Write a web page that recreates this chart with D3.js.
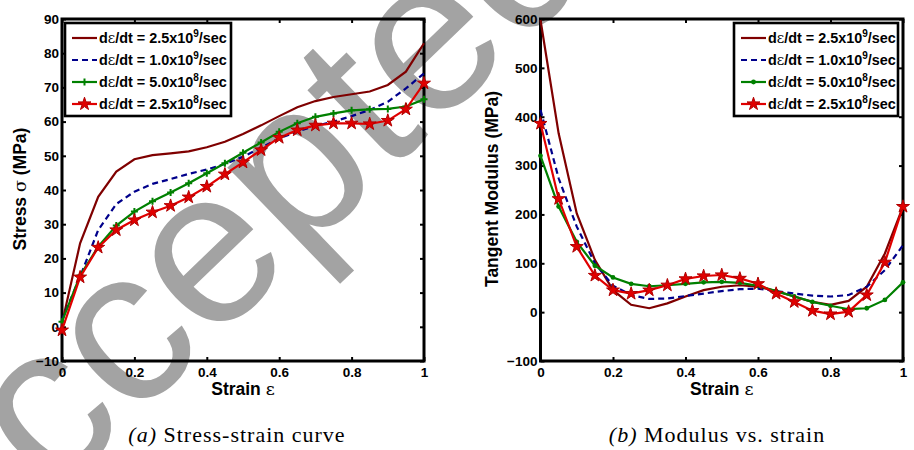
<!DOCTYPE html>
<html>
<head>
<meta charset="utf-8">
<script src="https://cdn.jsdelivr.net/npm/d3@7"></script>
<style>
  html, body { margin: 0; padding: 0; background: #fff; }
  svg { display: block; font-family: "Liberation Sans", Arial, sans-serif; }
</style>
</head>
<body>
<svg id="chart" width="914" height="450"></svg>
<script>
// data ---------------------------------------------------------------------------------------
const strain = [0, 0.05, 0.1, 0.15, 0.2, 0.25, 0.3, 0.35, 0.4, 0.45, 0.5,
  0.55, 0.6, 0.65, 0.7, 0.75, 0.8, 0.85, 0.9, 0.95, 1];

// (a) stress, MPa
const stress25e9 = [1, 24.4, 38.0, 45.4, 49.0, 50.2, 50.7, 51.3, 52.5, 54.1, 56.4,
  58.9, 61.6, 64.2, 66.0, 67.2, 68.0, 68.8, 70.7, 74.6, 82.9];
const stress10e9 = [2, 14.6, 28.3, 35.9, 39.5, 41.8, 43.2, 44.7, 46.0, 47.6, 49.7,
  52.4, 55.1, 57.1, 58.7, 60.0, 61.6, 63.4, 65.8, 69.7, 74.1];
const stress50e8 = [1.5, 15.0, 23.4, 29.6, 33.7, 36.7, 39.3, 42.0, 44.9, 47.8, 50.9,
  53.9, 57.0, 59.5, 61.4, 62.4, 63.3, 63.6, 63.7, 64.4, 66.5];
const stress25e8 = [-1, 14.5, 23.2, 28.3, 31.2, 33.5, 35.4, 37.9, 41.0, 44.6, 48.1,
  51.7, 55.3, 57.5, 58.9, 59.5, 59.5, 59.3, 60.3, 63.6, 71.2];

// (b) tangent modulus, MPa
const modulus25e9 = [598, 366, 202, 107, 45, 15, 8, 18, 32, 45, 52,
  55, 52, 43, 32, 21, 15, 23, 52, 120, 216];
const modulus10e9 = [414, 274, 175, 100, 54, 35, 27, 28, 33, 38, 43,
  47, 48, 43, 38, 34, 32, 35, 52, 86, 137];
const modulus50e8 = [320, 216, 144, 95, 71, 58, 53, 55, 58, 61, 62,
  60, 54, 43, 32, 21, 13, 6, 8, 25, 61];
const modulus25e8 = [386, 232, 134, 75, 45, 38, 45, 55, 68, 74, 76,
  69, 58, 38, 21, 3, -4, 1, 35, 102, 216];

const rateLabels = [
  {mant: '2.5', exp: '9'},
  {mant: '1.0', exp: '9'},
  {mant: '5.0', exp: '8'},
  {mant: '2.5', exp: '8'}
];
const xTicks = [0, 0.2, 0.4, 0.6, 0.8, 1];
const stressTicks = [-10, 0, 10, 20, 30, 40, 50, 60, 70, 80, 90];
const modulusTicks = [-100, 0, 100, 200, 300, 400, 500, 600];
const captions = [
  {tag: '(a)', text: ' Stress-strain curve'},
  {tag: '(b)', text: ' Modulus vs. strain'}
];

// styles -------------------------------------------------------------------------------------
const seriesStyle = [
  {color: '#7f0000', dash: null, marker: null},
  {color: '#00008b', dash: '6,4', marker: null},
  {color: '#008000', dash: null, marker: 'plus'},
  {color: '#e00000', dash: null, marker: 'star'}
];

const svg = d3.select('#chart');

// watermark ----------------------------------------------------------------------------------
svg.append('text')
  .attr('transform', 'translate(-54,601) rotate(-44)')
  .attr('font-size', '220px')
  .attr('fill', '#a3a3a3')
  .text('Accepted');

// panel --------------------------------------------------------------------------------------
function drawPanel(opt) {
  const x = d3.scaleLinear().domain([0, 1]).range([opt.left, opt.right]);
  const y = d3.scaleLinear().domain(opt.yDomain).range([361, 19]);
  const g = svg.append('g');
  const fmt = d3.format('~g');

  g.append('g')
    .attr('transform', 'translate(0,' + y.range()[0] + ')')
    .call(d3.axisBottom(x).tickValues(xTicks).tickSize(-4).tickPadding(6).tickFormat(fmt));
  g.append('g')
    .attr('transform', 'translate(' + x.range()[0] + ',0)')
    .call(d3.axisLeft(y).tickValues(opt.yTicks).tickSize(-4).tickPadding(3).tickFormat(fmt));
  g.append('g')
    .attr('transform', 'translate(0,' + y.range()[1] + ')')
    .call(d3.axisTop(x).tickValues(xTicks).tickSize(-4).tickFormat(''));
  g.append('g')
    .attr('transform', 'translate(' + x.range()[1] + ',0)')
    .call(d3.axisRight(y).tickValues(opt.yTicks).tickSize(-4).tickFormat(''));
  g.selectAll('.domain').remove();
  g.selectAll('.tick line').attr('stroke', '#000').attr('stroke-width', 2);
  g.selectAll('.tick text')
    .attr('font-family', '"Liberation Sans", Arial, sans-serif')
    .attr('font-size', '13.5px')
    .attr('font-weight', 'bold')
    .attr('fill', '#000');

  g.append('rect')
    .attr('x', x.range()[0]).attr('y', y.range()[1])
    .attr('width', x.range()[1] - x.range()[0])
    .attr('height', y.range()[0] - y.range()[1])
    .attr('fill', 'none').attr('stroke', '#000').attr('stroke-width', 3);

  const line = d3.line().x((d, i) => x(strain[i])).y(d => y(d));
  opt.series.forEach((vals, k) => {
    const st = seriesStyle[k];
    g.append('path')
      .attr('d', line(vals))
      .attr('fill', 'none')
      .attr('stroke', st.color)
      .attr('stroke-width', 2.2)
      .attr('stroke-dasharray', st.dash);
    drawMarkers(g, vals.map((v, i) => [x(strain[i]), y(v)]), k, opt.dotGreen);
  });

  // axis labels
  const xl = g.append('text')
    .attr('x', (x.range()[0] + x.range()[1]) / 2)
    .attr('y', 395)
    .attr('text-anchor', 'middle')
    .attr('font-size', '17.5px')
    .attr('font-weight', 'bold');
  xl.append('tspan').text('Strain ');
  xl.append('tspan').attr('font-weight', 'normal').attr('font-family', '"DejaVu Serif", serif').text('ε');

  const yl = g.append('text')
    .attr('transform', 'translate(' + opt.yLabelX + ',189) rotate(-90)')
    .attr('text-anchor', 'middle')
    .attr('font-size', '17.5px')
    .attr('font-weight', 'bold');
  opt.yLabel.forEach(p => {
    const t = yl.append('tspan').text(p.t);
    if (p.sym) t.attr('font-weight', 'normal').attr('font-family', '"DejaVu Serif", serif');
  });

  // legend
  const lg = g.append('g');
  lg.append('rect')
    .attr('x', opt.legend.x0).attr('y', 23)
    .attr('width', opt.legend.x1 - opt.legend.x0).attr('height', 93)
    .attr('fill', '#fff').attr('stroke', '#000').attr('stroke-width', 2.6);
  rateLabels.forEach((r, k) => {
    const st = seriesStyle[k];
    const ry = 38 + k * 22;
    const lx0 = opt.legend.x0 + 7, lx1 = opt.legend.x0 + 32;
    lg.append('line')
      .attr('x1', lx0).attr('x2', lx1).attr('y1', ry).attr('y2', ry)
      .attr('stroke', st.color).attr('stroke-width', 2.2)
      .attr('stroke-dasharray', st.dash);
    drawMarkers(lg, [[(lx0 + lx1) / 2, ry]], k, opt.dotGreen);
    const t = lg.append('text')
      .attr('x', lx1 + 2).attr('y', ry + 5)
      .attr('font-size', '14.4px')
      .attr('font-weight', 'bold');
    t.append('tspan').text('d');
    t.append('tspan').attr('font-weight', 'normal').attr('font-family', '"DejaVu Serif", serif').text('ε');
    t.append('tspan').text('/dt = ' + r.mant + 'x10');
    t.append('tspan').attr('dy', -6).attr('font-size', '10px').text(r.exp);
    t.append('tspan').attr('dy', 6).text('/sec');
  });

  // caption
  const cap = svg.append('text')
    .attr('x', opt.captionX).attr('y', 442)
    .attr('text-anchor', 'middle')
    .attr('font-family', '"Liberation Serif", "Times New Roman", serif')
    .attr('font-size', '22px')
    .attr('letter-spacing', '1px');
  cap.append('tspan').attr('font-style', 'italic').text(opt.caption.tag);
  cap.append('tspan').text(opt.caption.text);
}

function drawMarkers(g, pts, k, dotGreen) {
  const st = seriesStyle[k];
  if (st.marker === 'plus') {
    if (dotGreen) {
      g.selectAll(null).data(pts).enter().append('circle')
        .attr('cx', d => d[0]).attr('cy', d => d[1]).attr('r', 2.4)
        .attr('fill', st.color);
    } else {
      g.selectAll(null).data(pts).enter().append('path')
        .attr('d', d => 'M' + (d[0] - 3.5) + ',' + d[1] + 'H' + (d[0] + 3.5) +
          'M' + d[0] + ',' + (d[1] - 3.5) + 'V' + (d[1] + 3.5))
        .attr('stroke', st.color).attr('stroke-width', 2);
    }
  } else if (st.marker === 'star') {
    const star = d3.symbol(d3.symbolStar).size(52);
    g.selectAll(null).data(pts).enter().append('path')
      .attr('transform', d => 'translate(' + d[0] + ',' + d[1] + ')')
      .attr('d', star)
      .attr('fill', st.color)
      .attr('stroke', '#b00000')
      .attr('stroke-width', 1);
  }
}

drawPanel({
  left: 62, right: 424,
  yDomain: [-10, 90], yTicks: stressTicks,
  series: [stress25e9, stress10e9, stress50e8, stress25e8],
  yLabel: [{t: 'Stress '}, {t: 'σ', sym: true}, {t: ' (MPa)'}],
  yLabelX: 26,
  legend: {x0: 65, x1: 231},
  caption: captions[0], captionX: 237,
  dotGreen: false
});
drawPanel({
  left: 540.5, right: 903,
  yDomain: [-100, 600], yTicks: modulusTicks,
  series: [modulus25e9, modulus10e9, modulus50e8, modulus25e8],
  yLabel: [{t: 'Tangent Modulus (MPa)'}],
  yLabelX: 498,
  legend: {x0: 734, x1: 898},
  caption: captions[1], captionX: 717,
  dotGreen: true
});
</script>
</body>
</html>
